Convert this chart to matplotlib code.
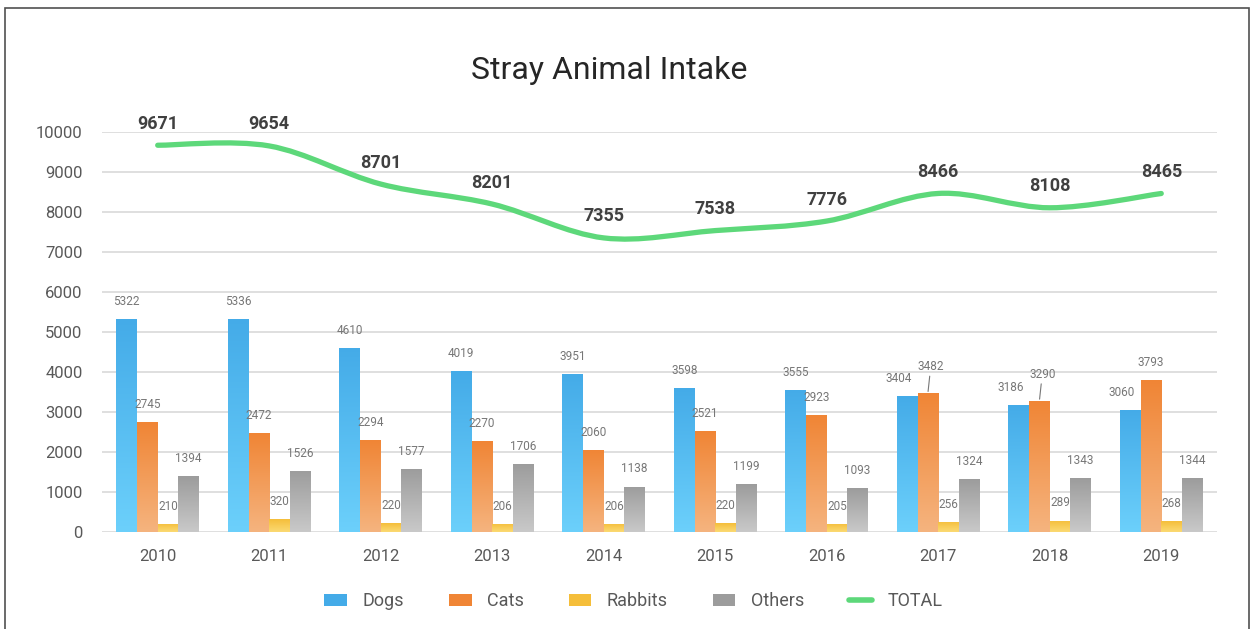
import numpy as np
import matplotlib
matplotlib.use('Agg')
import matplotlib.pyplot as plt
from matplotlib.path import Path
from matplotlib.patches import PathPatch, Patch, Rectangle
from matplotlib.lines import Line2D
from matplotlib.colors import LinearSegmentedColormap

years = ['2010', '2011', '2012', '2013', '2014', '2015', '2016', '2017', '2018', '2019']
dogs = [5322, 5336, 4610, 4019, 3951, 3598, 3555, 3404, 3186, 3060]
cats = [2745, 2472, 2294, 2270, 2060, 2521, 2923, 3482, 3290, 3793]
rabbits = [210, 320, 220, 206, 206, 220, 205, 256, 289, 268]
others = [1394, 1526, 1577, 1706, 1138, 1199, 1093, 1324, 1343, 1344]
total = [9671, 9654, 8701, 8201, 7355, 7538, 7776, 8466, 8108, 8465]

plt.rcParams['font.family'] = ['Roboto', 'DejaVu Sans']

series = [
    ('Dogs', dogs, '#44ABE8', '#6CD0FB'),
    ('Cats', cats, '#F08535', '#F5B47F'),
    ('Rabbits', rabbits, '#F5BE3A', '#FBDA74'),
    ('Others', others, '#9C9C9C', '#C9C9C9'),
]

fig = plt.figure(figsize=(12.54, 6.29), dpi=100)
ax = fig.add_axes([0.0813, 0.154, 0.8892, 0.636])

x = np.arange(len(years))
w = 0.185
grad = np.linspace(1, 0, 256).reshape(-1, 1)

for i, (name, vals, top, bot) in enumerate(series):
    pos = x + (i - 1.5) * w
    bars = ax.bar(pos, vals, width=w, color='none', edgecolor='none', zorder=2)
    cmap = LinearSegmentedColormap.from_list(name, [bot, top])
    for j, (b, v, p) in enumerate(zip(bars, vals, pos)):
        im = ax.imshow(grad, cmap=cmap, extent=[p - w / 2, p + w / 2, 0, v],
                       aspect='auto', origin='upper', zorder=2)
        im.set_clip_path(b)
        # bar value labels
        dx, dy = 0, 8
        if name == 'Cats' and years[j] in ('2017', '2018'):
            ax.annotate(str(v), xy=(p, v), xytext=(2, 14), textcoords='offset points',
                        ha='center', va='bottom', fontsize=8.5, color='#777777',
                        arrowprops=dict(arrowstyle='-', color='#777777', lw=0.8,
                                        shrinkA=0, shrinkB=1))
            continue
        if name == 'Dogs' and years[j] in ('2017', '2018', '2019'):
            dx = -6
        ax.annotate(str(v), xy=(p, v), xytext=(dx, dy), textcoords='offset points',
                    ha='center', va='bottom', fontsize=8.5, color='#777777')

# smooth total line (cubic bezier through points)
pts = np.column_stack([x, total]).astype(float)
verts = [tuple(pts[0])]
codes = [Path.MOVETO]
n = len(pts)
for i in range(n - 1):
    p0 = pts[i - 1] if i > 0 else pts[i]
    p1, p2 = pts[i], pts[i + 1]
    p3 = pts[i + 2] if i + 2 < n else pts[i + 1]
    c1 = p1 + (p2 - p0) / 6
    c2 = p2 - (p3 - p1) / 6
    verts += [tuple(c1), tuple(c2), tuple(p2)]
    codes += [Path.CURVE4] * 3
ax.add_patch(PathPatch(Path(verts, codes), facecolor='none', edgecolor='#5DD87A',
                       lw=3.8, capstyle='round', zorder=4, clip_on=False))
for xi, t in zip(x, total):
    ax.annotate(str(t), xy=(xi, t), xytext=(0, 9), textcoords='offset points',
                ha='center', va='bottom', fontsize=13, fontweight='bold',
                color='#404040', zorder=5)

ax.set_xlim(-0.5, len(years) - 0.5)
ax.set_ylim(0, 10000)
ax.set_yticks(np.arange(0, 10001, 1000))
ax.set_xticks(x)
ax.set_xticklabels(years)
ax.tick_params(axis='both', length=0, labelsize=12, colors='#595959')
ax.tick_params(axis='x', pad=12)
ax.tick_params(axis='y', pad=14)
ax.grid(axis='y', color='#D9D9D9', lw=1.2, zorder=0)
ax.set_axisbelow(True)
for s in ax.spines.values():
    s.set_visible(False)

fig.text(0.486, 0.888, 'Stray Animal Intake', ha='center', va='center',
         fontsize=23, color='#262626')

handles = [Patch(facecolor=(s[2]), edgecolor='none') for s in series]
handles.append(Line2D([0], [0], color='#5DD87A', lw=4, solid_capstyle='round'))
leg = fig.legend(handles, [s[0] for s in series] + ['TOTAL'], loc='center',
                 bbox_to_anchor=(0.505, 0.044), ncol=5, frameon=False,
                 fontsize=13, handlelength=1.25, handleheight=0.65,
                 columnspacing=2.5, handletextpad=0.85)
for t in leg.get_texts():
    t.set_color('#595959')

fig.patches.append(Rectangle((0.004, -0.05), 0.992, 1.037, transform=fig.transFigure,
                             fill=False, edgecolor='#505050', lw=1.2))

fig.savefig('out.png', dpi=100)
